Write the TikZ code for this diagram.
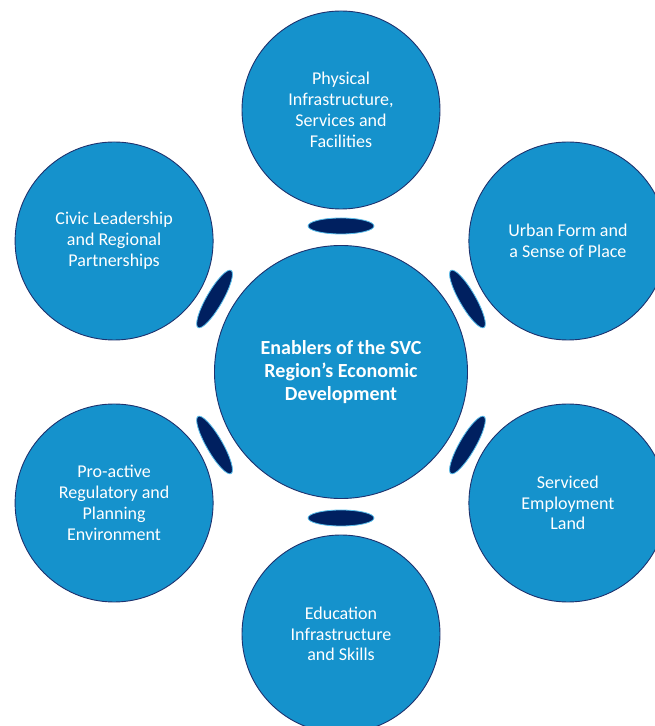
\documentclass[tikz,border=0pt]{standalone}
\usepackage{fontspec}
\setmainfont{Carlito}
\usetikzlibrary{shapes.geometric,calc}
\definecolor{circfill}{RGB}{21,146,204}
\definecolor{navy}{RGB}{0,32,96}
\definecolor{rimline}{RGB}{30,50,110}
\definecolor{glow}{RGB}{90,190,235}
\tikzset{
  outer/.style={circle, fill=circfill, draw=rimline, line width=0.9pt,
    minimum size=198pt, inner sep=0pt, align=center, text=white,
    font=\fontsize{18}{20.8}\selectfont},
  hub/.style={circle, fill=circfill, draw=rimline, line width=0.9pt,
    minimum size=253pt, inner sep=0pt, align=center, text=white,
    font=\fontsize{20}{23.3}\selectfont\bfseries},
  link/.style={ellipse, fill=navy, draw=glow, line width=0.8pt,
    minimum width=66pt, minimum height=16pt, inner sep=0pt}
}
\begin{document}
\begin{tikzpicture}[x=1pt,y=1pt]
\useasboundingbox (0,0) rectangle (654,726);
\coordinate (C) at (341,354);
\node[hub] (hub) at (C) {Enablers of the SVC\\Region’s Economic\\Development};
\node[outer] (phys) at ($(C)+(90:262)$) {Physical\\Infrastructure,\\Services and\\Facilities};
\node[outer] (urban) at ($(C)+(30:262)$) {Urban Form and\\a Sense of Place};
\node[outer] (land) at ($(C)+(-30:262)$) {Serviced\\Employment\\Land};
\node[outer] (edu) at ($(C)+(-90:262)$) {Education\\Infrastructure\\and Skills};
\node[outer] (reg) at ($(C)+(210:262)$) {Pro-active\\Regulatory and\\Planning\\Environment};
\node[outer] (civic) at ($(C)+(150:262)$) {Civic Leadership\\and Regional\\Partnerships};
\foreach \a/\n in {90/l1,30/l2,-30/l3,-90/l4,210/l5,150/l6}{
  \node[link, rotate=\a+90] (\n) at ($(C)+(\a:146)$) {};
}
\end{tikzpicture}
\end{document}
